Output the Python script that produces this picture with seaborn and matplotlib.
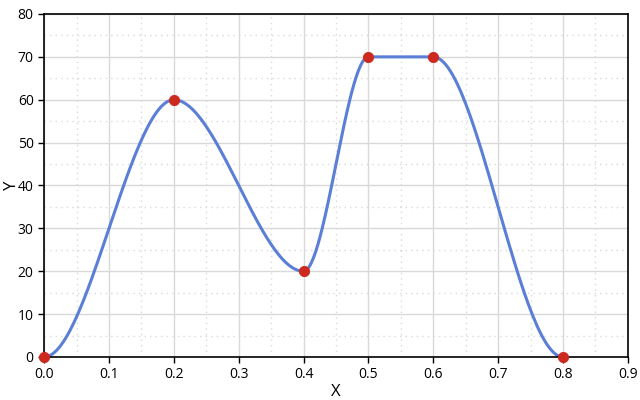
import numpy as np
import pandas as pd
import matplotlib
matplotlib.use("Agg")
import matplotlib.pyplot as plt
import seaborn as sns
from matplotlib.ticker import MultipleLocator

# Data points
x_vals = [0.0, 0.2, 0.4, 0.5, 0.6, 0.8]
y_vals = [0, 60, 20, 70, 70, 0]

sns.set_theme(style="white")
plt.rcParams['font.family'] = ['Open Sans', 'DejaVu Sans']

# Smooth line through the points: cubic Hermite with flat tangents at each point
xs, ys = [], []
for i in range(len(x_vals) - 1):
    t = np.linspace(0, 1, 60, endpoint=False)
    h = 3 * t**2 - 2 * t**3
    xs.extend(x_vals[i] + (x_vals[i + 1] - x_vals[i]) * t)
    ys.extend(y_vals[i] + (y_vals[i + 1] - y_vals[i]) * h)
xs.append(x_vals[-1])
ys.append(y_vals[-1])
curve = pd.DataFrame({"X": xs, "Y": ys})
points = pd.DataFrame({"X": x_vals, "Y": y_vals})

fig = plt.figure(figsize=(6.4, 4), dpi=100)
ax = fig.add_axes([0.069, 0.1075, 0.912, 0.8575])

ax.xaxis.set_major_locator(MultipleLocator(0.1))
ax.xaxis.set_minor_locator(MultipleLocator(0.05))
ax.yaxis.set_major_locator(MultipleLocator(10))
ax.yaxis.set_minor_locator(MultipleLocator(5))
ax.grid(which="major", color="#d9d9d9", linewidth=1, linestyle="-")
ax.grid(which="minor", color="#d9d9d9", linewidth=1, linestyle=(0, (1, 3)))
ax.set_axisbelow(True)

sns.lineplot(data=curve, x="X", y="Y", ax=ax, color="#5b7fd6", linewidth=2.2, sort=False)
sns.scatterplot(data=points, x="X", y="Y", ax=ax, color="#cc2a1e", s=55,
                edgecolor="#cc2a1e", zorder=5, clip_on=False)

ax.set_xlim(0, 0.9)
ax.set_ylim(0, 80)
ax.set_xticks(np.arange(0, 0.91, 0.1))
ax.set_xticklabels([f"{v:.1f}" for v in np.arange(0, 0.91, 0.1)])
for s in ax.spines.values():
    s.set_color("black")
    s.set_linewidth(1.2)
ax.tick_params(which="major", direction="out", length=4, width=1, color="black",
               labelsize=10, labelcolor="black", bottom=True, left=True)
ax.tick_params(which="minor", length=0)
ax.set_xlabel("X", fontsize=12, color="black", labelpad=1)
ax.set_ylabel("Y", fontsize=12, color="black")
ax.yaxis.set_label_coords(-0.041, 0.5)

fig.savefig("out.png", dpi=100)
